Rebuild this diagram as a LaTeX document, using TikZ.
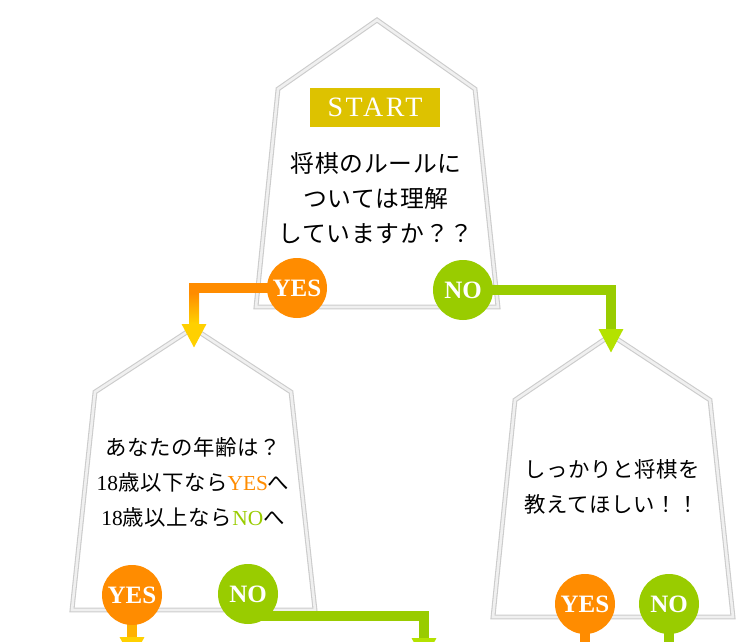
\documentclass[tikz,border=0pt]{standalone}
\usepackage{fontspec}
\setmainfont{Liberation Serif}
\newfontfamily\jp{Noto Sans CJK JP}[LetterSpace=3]
\newfontfamily\st{Liberation Serif}[LetterSpace=9]
\usetikzlibrary{arrows.meta,calc}
\definecolor{orng}{RGB}{255,140,0}
\definecolor{gold}{RGB}{255,208,0}
\definecolor{leaf}{RGB}{153,204,0}
\definecolor{lime}{RGB}{180,226,0}
\definecolor{olv}{RGB}{221,194,0}
\pgfdeclarelayer{back}\pgfdeclarelayer{mid}\pgfsetlayers{back,mid,main}
\begin{document}
\begin{tikzpicture}[x=1pt,y=-1pt,
koma/.style={draw=gray!40,line width=1.1pt,double=gray!12,double distance=2.6pt,fill=white,line join=miter},
maru/.style={circle,inner sep=0pt,minimum size=60pt,text=white,font=\bfseries\fontsize{25}{25}\selectfont},
yesmaru/.style={maru,fill=orng},nomaru/.style={maru,fill=leaf},
ask/.style={align=center,inner sep=0pt},
yesbar/.style={line width=10pt,draw=orng,-{Triangle[width=23pt,length=24pt,color=gold]}},
nobar/.style={line width=10pt,draw=leaf,-{Triangle[width=23pt,length=24pt,color=lime]}}]
\useasboundingbox (0,0) rectangle (750,642);
\begin{pgfonlayer}{back}
\draw[koma] (377,20)--(475,89)--(498,307)--(256,307)--(278,89)--cycle;
\draw[koma] (193,328)--(291,392)--(315,610)--(72,610)--(95,392)--cycle;
\draw[koma] (611,335)--(710,400)--(733,617)--(493,617)--(515,400)--cycle;
\end{pgfonlayer}
\node[fill=olv,text=white,minimum width=130pt,minimum height=39pt,inner sep=0pt,font=\st\fontsize{28}{28}\selectfont] (start) at (375,107.5) {START};
\node[ask,font=\jp\fontsize{23.8}{35}\selectfont] (q1) at (376,198) {将棋のルールに\\ついては理解\\していますか？？};
\node[ask,font=\jp\fontsize{21.4}{35}\selectfont] (q2) at (193,482) {あなたの年齢は？\\\textrm{18}歳以下なら\textcolor{orng}{\textrm{YES}}へ\\\textrm{18}歳以上なら\textcolor{leaf}{\textrm{NO}}へ};
\node[ask,font=\jp\fontsize{21.4}{35}\selectfont] (q3) at (612,487) {しっかりと将棋を\\教えてほしい！！};
\node[yesmaru] (yesA) at (297,288) {YES};\node[nomaru] (noA) at (463,290) {NO};
\node[yesmaru] (yesB) at (132,595) {YES};\node[nomaru] (noB) at (248,594) {NO};
\node[yesmaru] (yesC) at (585,604) {YES};\node[nomaru] (noC) at (669,604) {NO};
\coordinate (inB) at (194,348);\coordinate (inC) at (611,353);\coordinate (outB) at (424,662);
\coordinate (cutB) at (0,661);\coordinate (cutC) at (0,672);
\begin{pgfonlayer}{mid}
\draw[yesbar] (yesA.center) -| (inB);
\shade[top color=orng,bottom color=gold] ($(inB)+(-5,-55)$) rectangle ($(inB)+(5,-25)$);
\draw[nobar] (noA.center) -| (inC);
\draw[yesbar,draw=gold!55!orng] (yesB.center) -- (yesB |- cutB);
\draw[nobar] ($(noB.center)+(0,22)$) -| (outB);
\draw[yesbar] (yesC.center) -- (yesC |- cutC);
\draw[nobar] (noC.center) -- (noC |- cutC);
\end{pgfonlayer}
\end{tikzpicture}
\end{document}
